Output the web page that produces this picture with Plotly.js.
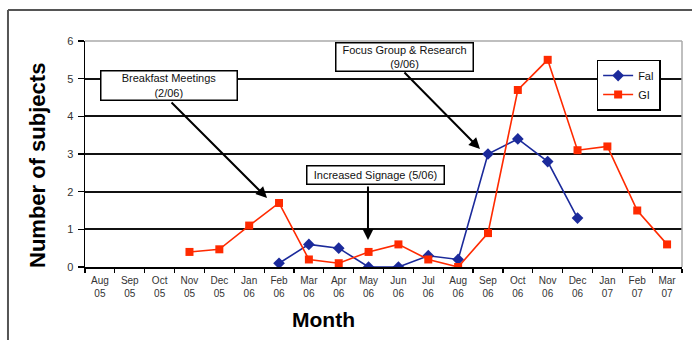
<!DOCTYPE html>
<html>
<head>
<meta charset="utf-8">
<script src="https://cdn.plot.ly/plotly-3.0.1.min.js"></script>
<style>
html,body{margin:0;padding:0;background:#fff;}
#chart{width:692px;height:340px;}
</style>
</head>
<body>
<div id="chart"></div>
<script>
const months = ["Aug<br>05","Sep<br>05","Oct<br>05","Nov<br>05","Dec<br>05","Jan<br>06","Feb<br>06","Mar<br>06","Apr<br>06","May<br>06","Jun<br>06","Jul<br>06","Aug<br>06","Sep<br>06","Oct<br>06","Nov<br>06","Dec<br>06","Jan<br>07","Feb<br>07","Mar<br>07"];
const falValues = [null,null,null,null,null,null,0.1,0.6,0.5,0,0,0.3,0.2,3.0,3.4,2.8,1.3,null,null,null];
const giValues = [null,null,null,0.4,0.47,1.1,1.7,0.2,0.1,0.4,0.6,0.2,0.0,0.9,4.7,5.5,3.1,3.2,1.5,0.6];
const yTicks = [0,1,2,3,4,5,6];

const FONT = "Liberation Sans, Arial, Helvetica, sans-serif";

const traces = [
  {x: months, y: falValues, name: "Fal", type: "scatter", mode: "lines+markers",
   connectgaps: false,
   line: {color: "#1b2a9b", width: 1.6},
   marker: {symbol: "diamond", size: 9, color: "#1b2a9b"}},
  {x: months, y: giValues, name: "GI", type: "scatter", mode: "lines+markers",
   connectgaps: false,
   line: {color: "#ff2a00", width: 1.6},
   marker: {symbol: "square", size: 8, color: "#ff2a00"}}
];

const boxStyle = {showarrow: false, xref: "paper", yref: "paper", bgcolor: "#ffffff",
  bordercolor: "#000000", borderwidth: 1.5, borderpad: 1,
  font: {family: FONT, size: 11, color: "#111"}};

const layout = {
  width: 692, height: 340,
  margin: {l: 85, r: 10, t: 41, b: 73},
  paper_bgcolor: "#ffffff", plot_bgcolor: "#ffffff",
  font: {family: FONT, color: "#222"},
  showlegend: true,
  legend: {x: 0.857, y: 0.918, xanchor: "left", yanchor: "top",
    bgcolor: "#ffffff", bordercolor: "#000000", borderwidth: 1.5,
    font: {family: FONT, size: 11, color: "#111"}, tracegroupgap: 0, itemwidth: 30},
  xaxis: {
    type: "category", range: [-0.5, 19.5], fixedrange: true,
    showline: true, linecolor: "#000", linewidth: 1.5,
    ticks: "outside", ticklen: 4, tickcolor: "#000", tickwidth: 1.2,
    tickson: "boundaries", showgrid: false, zeroline: false,
    ticklabelstandoff: 3,
    tickfont: {family: FONT, size: 10, color: "#333"},
    tickangle: 0
  },
  yaxis: {
    range: [0, 6], tickvals: yTicks, fixedrange: true,
    showline: true, linecolor: "#000", linewidth: 1.5,
    ticks: "outside", ticklen: 6, tickcolor: "#000", tickwidth: 1.2,
    showgrid: true, gridcolor: "#111", gridwidth: 2, zeroline: false,
    ticklabelstandoff: 2,
    tickfont: {family: FONT, size: 11, color: "#333"}
  },
  shapes: [
    {type: "line", xref: "paper", yref: "paper", x0: 0, x1: 1, y0: 1, y1: 1, layer: "above",
     line: {color: "#aaaaaa", width: 1.5}},
    {type: "line", xref: "paper", yref: "paper", x0: 1, x1: 1, y0: 0, y1: 1, layer: "above",
     line: {color: "#aaaaaa", width: 1.5}},
    {type: "line", xref: "paper", yref: "paper", x0: -0.129, x1: 1.02, y0: 1.137, y1: 1.137,
     line: {color: "#555555", width: 2}},
    {type: "line", xref: "paper", yref: "paper", x0: -0.129, x1: -0.129, y0: 1.137, y1: -0.33,
     line: {color: "#555555", width: 2}}
  ],
  annotations: [
    Object.assign({}, boxStyle, {text: "Breakfast Meetings<br>(2/06)", x: 0.1415, y: 0.8009,
      xanchor: "center", yanchor: "middle", width: 133, height: 26}),
    Object.assign({}, boxStyle, {text: "Increased Signage (5/06)", x: 0.4858, y: 0.4049,
      xanchor: "center", yanchor: "middle", width: 134, height: 15}),
    Object.assign({}, boxStyle, {text: "Focus Group &amp; Research<br>(9/06)", x: 0.536, y: 0.9314,
      xanchor: "center", yanchor: "middle", width: 134, height: 25}),
    {text: "", xref: "paper", yref: "paper", x: 0.3049, y: 0.3053, ax: -97, ay: -97,
     showarrow: true, arrowhead: 2, arrowsize: 1.1, arrowwidth: 2, arrowcolor: "#000"},
    {text: "", xref: "paper", yref: "paper", x: 0.474, y: 0.1195, ax: 0, ay: -55,
     showarrow: true, arrowhead: 2, arrowsize: 1.1, arrowwidth: 2, arrowcolor: "#000"},
    {text: "", xref: "paper", yref: "paper", x: 0.6616, y: 0.5221, ax: -77, ay: -78,
     showarrow: true, arrowhead: 2, arrowsize: 1.1, arrowwidth: 2, arrowcolor: "#000"},
    {text: "<b>Number of subjects</b>", xref: "paper", yref: "paper", x: -0.0787, y: 0.447,
     textangle: -90, showarrow: false, xanchor: "center", yanchor: "middle",
     font: {family: FONT, size: 22, color: "#000"}},
    {text: "<b>Month</b>", xref: "paper", yref: "paper", x: 0.3987, y: -0.2345,
     showarrow: false, xanchor: "center", yanchor: "middle",
     font: {family: FONT, size: 21, color: "#000"}}
  ]
};

Plotly.newPlot("chart", traces, layout, {staticPlot: true, displayModeBar: false});
</script>
</body>
</html>
